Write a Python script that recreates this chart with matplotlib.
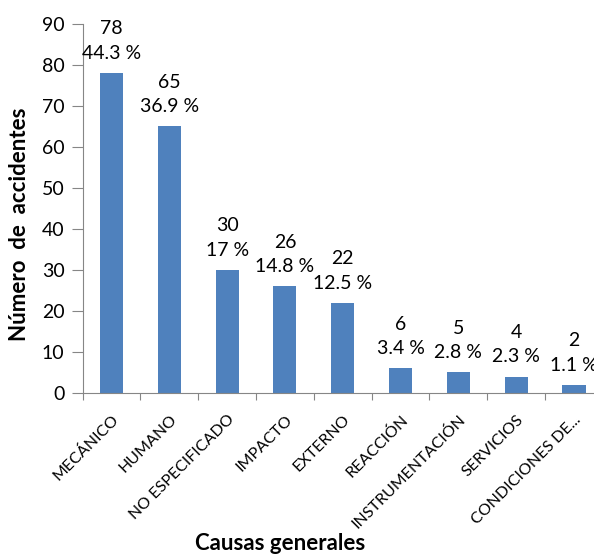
import matplotlib
matplotlib.use("Agg")
import matplotlib.pyplot as plt

categories = ["MECÁNICO", "HUMANO", "NO ESPECIFICADO", "IMPACTO", "EXTERNO",
              "REACCIÓN", "INSTRUMENTACIÓN", "SERVICIOS", "CONDICIONES DE..."]
counts = [78, 65, 30, 26, 22, 6, 5, 4, 2]
percents = [44.3, 36.9, 17, 14.8, 12.5, 3.4, 2.8, 2.3, 1.1]
y_ticks = [0, 10, 20, 30, 40, 50, 60, 70, 80, 90]

plt.rcParams['font.family'] = ['Lato', 'DejaVu Sans']

fig = plt.figure(figsize=(5.94, 5.55), dpi=100)
ax = fig.add_axes([0.139, 0.292, 0.876, 0.665])

x = list(range(len(categories)))
ax.bar(x, counts, width=0.4, color="#4F81BD", zorder=2)

for xi, c, p in zip(x, counts, percents):
    ax.annotate(f"{c}\n{p:g} %", (xi, c), xytext=(0, 8), textcoords="offset points",
                ha="center", va="bottom", fontsize=14, linespacing=1.55)

ax.set_xlim(-0.5, len(categories) - 0.5)
ax.set_ylim(0, 90)
ax.set_yticks(y_ticks)
ax.tick_params(axis="y", labelsize=14, length=8, color="#868686", pad=5)

ax.set_xticks([i - 0.5 for i in range(len(categories) + 1)], minor=False)
ax.set_xticklabels([])
ax.set_xticks(x, minor=True)
ax.set_xticklabels(categories, minor=True, rotation=45, ha="right",
                   rotation_mode="anchor", fontsize=11.5)
ax.tick_params(axis="x", which="major", length=5, color="#868686")
ax.tick_params(axis="x", which="minor", length=0, pad=14)

for side in ("top", "right"):
    ax.spines[side].set_visible(False)
for side in ("left", "bottom"):
    ax.spines[side].set_color("#868686")

fig.text(20 / 594, 1 - 224 / 555, "Número  de  accidentes", rotation=90,
         ha="center", va="center", fontsize=16, fontweight="bold")
fig.text(280 / 594, 1 - 543 / 555, "Causas generales", ha="center", va="center",
         fontsize=16, fontweight="bold")

fig.savefig("out.png", dpi=100)
